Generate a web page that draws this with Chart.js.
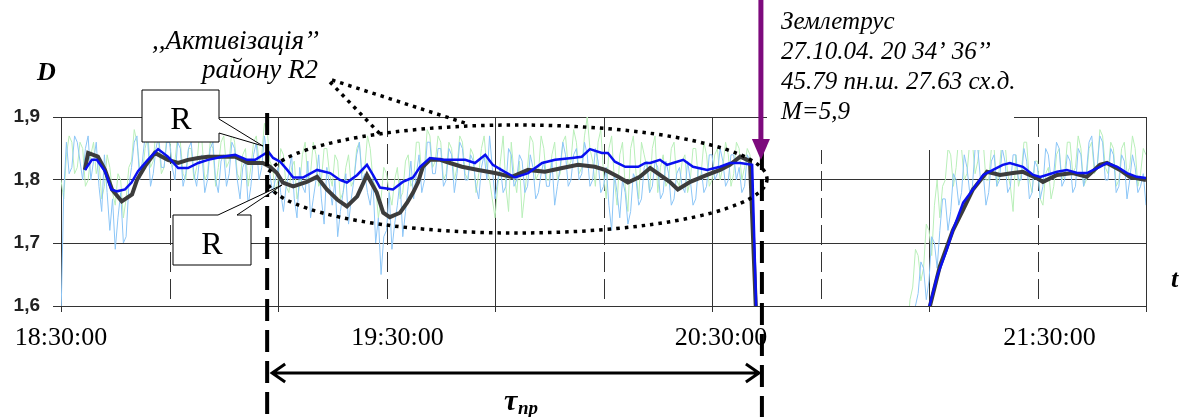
<!DOCTYPE html>
<html>
<head>
<meta charset="utf-8">
<script src="https://cdn.jsdelivr.net/npm/chart.js@4.4.0/dist/chart.umd.min.js"></script>
<style>
  html, body { margin: 0; padding: 0; background: #fff; }
</style>
</head>
<body>
<canvas id="chart" width="1179" height="417"></canvas>
<script>
// time axis is in minutes after 18:30:00
const labelMinutes = [0, 60, 120, 180];
const timeLabels = ['18:30:00', '19:30:00', '20:30:00', '21:30:00'];
const labelNudge = [0, 11, 9, 12];

// raw traces are sampled every half minute
const rawStep = 0.5;

// raw D, light blue trace
const rawBlueStart = 0;
const rawBlueEarly = [
  1.58, 1.78, 1.86, 1.81, 1.82, 1.87, 1.86, 1.83, 1.80, 1.85, 1.87, 1.80, 1.83, 1.86, 1.79, 1.75, 1.84, 1.78, 1.72, 1.77,
  1.69, 1.74, 1.78, 1.70, 1.71, 1.79, 1.82, 1.86, 1.87, 1.80, 1.83, 1.87, 1.86, 1.79, 1.81, 1.85, 1.87, 1.82, 1.82, 1.86,
  1.86, 1.82, 1.80, 1.86, 1.85, 1.79, 1.81, 1.85, 1.86, 1.81, 1.79, 1.83, 1.84, 1.78, 1.80, 1.85, 1.86, 1.80, 1.78, 1.83,
  1.84, 1.79, 1.81, 1.86, 1.85, 1.80, 1.77, 1.82, 1.83, 1.76, 1.79, 1.84, 1.86, 1.80, 1.82, 1.87, 1.84, 1.81, 1.78, 1.80,
  1.82, 1.78, 1.75, 1.79, 1.81, 1.84, 1.77, 1.74, 1.82, 1.79, 1.78, 1.83, 1.74, 1.77, 1.80, 1.84, 1.77, 1.73, 1.82, 1.79,
  1.76, 1.80, 1.71, 1.75, 1.78, 1.81, 1.73, 1.77, 1.80, 1.84, 1.86, 1.80, 1.81, 1.78, 1.76, 1.80, 1.70, 1.74, 1.65, 1.71,
  1.72, 1.78, 1.69, 1.73, 1.76, 1.80, 1.71, 1.75, 1.79, 1.83, 1.77, 1.81, 1.84, 1.78, 1.80, 1.86, 1.86, 1.81, 1.81, 1.85,
  1.85, 1.79, 1.80, 1.85, 1.84, 1.78, 1.81, 1.86, 1.85, 1.80, 1.80, 1.84, 1.83, 1.79, 1.77, 1.82, 1.84, 1.80, 1.87, 1.82,
  1.77, 1.80, 1.82, 1.78, 1.79, 1.85, 1.84, 1.79, 1.80, 1.84, 1.83, 1.78, 1.79, 1.84, 1.82, 1.77, 1.78, 1.81, 1.83, 1.79,
  1.79, 1.83, 1.76, 1.79, 1.82, 1.86, 1.84, 1.79, 1.80, 1.84, 1.85, 1.80, 1.81, 1.86, 1.84, 1.79, 1.80, 1.85, 1.83, 1.78,
  1.79, 1.82, 1.76, 1.72, 1.81, 1.78, 1.74, 1.80, 1.78, 1.73, 1.75, 1.81, 1.80, 1.76, 1.77, 1.82, 1.83, 1.78, 1.79, 1.83,
  1.82, 1.77, 1.78, 1.83, 1.81, 1.76, 1.77, 1.81, 1.82, 1.79, 1.78, 1.83, 1.80, 1.76, 1.77, 1.82, 1.82, 1.78, 1.79, 1.84,
  1.84, 1.80, 1.81, 1.85, 1.83, 1.79, 1.80, 1.84, 1.84, 1.80, 1.82, 1.78, 1.79, 1.84, 1.83, 1.80, 1.50
];
const rawBlueLateStart = 157;
const rawBlueLate = [
  1.55, 1.60, 1.62, 1.67, 1.66, 1.61, 1.64, 1.71, 1.70, 1.66, 1.72, 1.77, 1.77, 1.72, 1.75, 1.81, 1.80, 1.76, 1.78, 1.84,
  1.82, 1.78, 1.79, 1.85, 1.85, 1.80, 1.81, 1.76, 1.78, 1.83, 1.84, 1.79, 1.80, 1.85, 1.83, 1.78, 1.79, 1.84, 1.84, 1.80,
  1.80, 1.85, 1.83, 1.77, 1.78, 1.83, 1.82, 1.77, 1.79, 1.85, 1.84, 1.80, 1.81, 1.86, 1.85, 1.79, 1.80, 1.84, 1.83, 1.78,
  1.79, 1.85, 1.84, 1.79, 1.81, 1.86, 1.87, 1.82, 1.82, 1.87, 1.86, 1.80, 1.80, 1.85, 1.84, 1.78, 1.79, 1.84, 1.83, 1.77,
  1.80, 1.84, 1.82, 1.78, 1.79, 1.81, 1.76
];

// raw D, light green trace
const rawGreenStart = 0;
const rawGreenEarly = [
  1.80, 1.77, 1.84, 1.87, 1.86, 1.81, 1.82, 1.86, 1.85, 1.79, 1.80, 1.84, 1.86, 1.81, 1.83, 1.77, 1.79, 1.84, 1.82, 1.78,
  1.76, 1.81, 1.80, 1.74, 1.77, 1.82, 1.83, 1.88, 1.86, 1.82, 1.81, 1.85, 1.87, 1.82, 1.83, 1.88, 1.86, 1.81, 1.82, 1.87,
  1.87, 1.82, 1.83, 1.87, 1.86, 1.81, 1.80, 1.85, 1.85, 1.80, 1.82, 1.87, 1.86, 1.80, 1.81, 1.86, 1.85, 1.79, 1.82, 1.86,
  1.87, 1.82, 1.83, 1.88, 1.86, 1.81, 1.80, 1.84, 1.85, 1.79, 1.82, 1.86, 1.87, 1.83, 1.84, 1.89, 1.88, 1.83, 1.82, 1.78,
  1.80, 1.85, 1.84, 1.79, 1.78, 1.82, 1.83, 1.77, 1.79, 1.84, 1.86, 1.80, 1.81, 1.86, 1.84, 1.79, 1.80, 1.85, 1.85, 1.81,
  1.79, 1.84, 1.83, 1.77, 1.78, 1.82, 1.84, 1.79, 1.80, 1.85, 1.86, 1.81, 1.82, 1.87, 1.85, 1.80, 1.79, 1.74, 1.77, 1.82,
  1.81, 1.78, 1.76, 1.80, 1.82, 1.77, 1.78, 1.83, 1.84, 1.79, 1.80, 1.86, 1.86, 1.81, 1.82, 1.88, 1.87, 1.82, 1.83, 1.87,
  1.86, 1.80, 1.81, 1.86, 1.85, 1.80, 1.82, 1.87, 1.86, 1.81, 1.80, 1.85, 1.84, 1.78, 1.81, 1.85, 1.87, 1.82, 1.80, 1.77,
  1.74, 1.79, 1.83, 1.87, 1.79, 1.75, 1.86, 1.81, 1.78, 1.83, 1.74, 1.78, 1.82, 1.87, 1.86, 1.80, 1.81, 1.87, 1.85, 1.80,
  1.80, 1.84, 1.86, 1.80, 1.81, 1.86, 1.87, 1.82, 1.83, 1.88, 1.86, 1.81, 1.82, 1.87, 1.90, 1.85, 1.83, 1.79, 1.86, 1.88,
  1.81, 1.77, 1.85, 1.87, 1.80, 1.76, 1.84, 1.86, 1.79, 1.75, 1.85, 1.87, 1.81, 1.77, 1.86, 1.84, 1.82, 1.78, 1.85, 1.87,
  1.78, 1.82, 1.84, 1.79, 1.80, 1.85, 1.86, 1.80, 1.79, 1.83, 1.84, 1.78, 1.80, 1.85, 1.85, 1.80, 1.81, 1.86, 1.84, 1.79,
  1.80, 1.84, 1.85, 1.80, 1.82, 1.86, 1.84, 1.79, 1.81, 1.86, 1.85, 1.80, 1.82, 1.85, 1.84, 1.79, 1.50
];
const rawGreenLateStart = 156;
const rawGreenLate = [
  1.56, 1.61, 1.63, 1.69, 1.68, 1.64, 1.66, 1.73, 1.72, 1.68, 1.76, 1.80, 1.74, 1.79, 1.80, 1.85, 1.84, 1.79, 1.82, 1.87,
  1.85, 1.80, 1.81, 1.86, 1.86, 1.81, 1.83, 1.87, 1.86, 1.80, 1.80, 1.85, 1.85, 1.79, 1.82, 1.87, 1.86, 1.81, 1.79, 1.75,
  1.84, 1.79, 1.81, 1.86, 1.86, 1.80, 1.78, 1.83, 1.83, 1.77, 1.76, 1.81, 1.82, 1.77, 1.79, 1.84, 1.85, 1.80, 1.81, 1.86,
  1.86, 1.81, 1.82, 1.87, 1.85, 1.79, 1.80, 1.85, 1.86, 1.81, 1.82, 1.88, 1.87, 1.82, 1.81, 1.86, 1.85, 1.79, 1.80, 1.85,
  1.86, 1.81, 1.82, 1.87, 1.85, 1.79, 1.81, 1.85, 1.84
];

// smoothed D, dark grey
const greyMinutes = [4.4, 5, 6.8, 8.1, 9.4, 11.2, 13.1, 14, 15.5, 17.3,
  19.7, 21.6, 23.4, 25.3, 27.1, 29.7, 32.1, 34.5, 37.2, 38.5,
  39.8, 40.9, 42.8, 45.3, 47.2, 49, 50.9, 52.7, 54.6, 56.4,
  58.2, 59.4, 60.6, 62.5, 63.8, 64.9, 65.8, 66.7, 68, 69.9,
  71.7, 73.9, 76.9, 80, 83.1, 86.1, 89.2, 92.4, 95.3, 98.4,
  100.3, 102.7, 104.5, 106.7, 108.6, 110.4, 112.2, 113.7, 116, 119.1,
  121.5, 123.3, 125.2, 127, 128.3, 144,
  159.6, 162, 164.4, 166.3, 168.1, 170.7, 173.1, 175.5, 177.3, 179.9,
  181, 183.6, 186.5, 189.1, 191.5, 192.8, 195.2, 197, 200];
const greyValues = [1.816, 1.843, 1.837, 1.816, 1.785, 1.766, 1.777, 1.80, 1.822, 1.843,
  1.832, 1.827, 1.832, 1.835, 1.837, 1.837, 1.837, 1.827, 1.827, 1.821,
  1.811, 1.796, 1.79, 1.797, 1.805, 1.785, 1.769, 1.758, 1.774, 1.808,
  1.78, 1.748, 1.741, 1.748, 1.764, 1.78, 1.796, 1.821, 1.832, 1.832,
  1.827, 1.821, 1.816, 1.811, 1.805, 1.816, 1.813, 1.819, 1.824, 1.821,
  1.816, 1.805, 1.796, 1.805, 1.819, 1.808, 1.797, 1.785, 1.797, 1.808,
  1.816, 1.824, 1.837, 1.83, 1.55, null,
  1.58, 1.663, 1.72, 1.753, 1.785, 1.813, 1.808, 1.811, 1.813, 1.803,
  1.797, 1.808, 1.811, 1.805, 1.824, 1.827, 1.816, 1.805, 1.80];

// smoothed D, blue
const blueMinutes = [4.4, 5.7, 6.6, 8.1, 9.3, 10.3, 11.8, 13, 14.2, 16,
  17.9, 19.7, 21.6, 23.4, 25.3, 27.1, 29.7, 32.1, 34.3, 35.8,
  36.7, 38.2, 39.1, 40.4, 41.7, 42.8, 44.6, 47.2, 49.6, 51.4,
  52.7, 54.6, 56.4, 57.5, 58.8, 61.2, 63, 64.9, 66.2, 68,
  70.4, 72.6, 74.5, 76.3, 78.2, 79.6, 81.8, 83.7, 86.1, 88.7,
  91.1, 94.2, 96, 97.5, 99.7, 100.8, 102.1, 104, 106.4, 107.7,
  108.6, 110.4, 111.7, 112.8, 114.7, 116.5, 119.1, 121.5, 123.3, 125.2,
  127.4, 128.3, 144,
  159.5, 161.5, 163.3, 164.4, 166.3, 168.1, 170, 171.8, 173.6, 174.9,
  177.3, 179.2, 180.5, 181.7, 183.6, 185.4, 187.3, 189.1, 191.5, 192.8,
  194.7, 196.5, 198.3, 200];
const blueValues = [1.816, 1.832, 1.832, 1.814, 1.785, 1.782, 1.785, 1.796, 1.814, 1.832,
  1.849, 1.837, 1.819, 1.819, 1.827, 1.832, 1.837, 1.84, 1.832, 1.832,
  1.837, 1.845, 1.835, 1.829, 1.816, 1.804, 1.804, 1.816, 1.811, 1.80,
  1.796, 1.808, 1.824, 1.808, 1.788, 1.785, 1.797, 1.804, 1.821, 1.835,
  1.832, 1.832, 1.832, 1.827, 1.840, 1.824, 1.813, 1.804, 1.811, 1.827,
  1.832, 1.835, 1.837, 1.849, 1.843, 1.843, 1.829, 1.821, 1.821, 1.827,
  1.827, 1.832, 1.824, 1.827, 1.832, 1.821, 1.816, 1.821, 1.827, 1.827,
  1.824, 1.55, null,
  1.58, 1.647, 1.69, 1.72, 1.764, 1.785, 1.808, 1.816, 1.824, 1.827,
  1.821, 1.808, 1.805, 1.808, 1.813, 1.816, 1.811, 1.811, 1.821, 1.827,
  1.821, 1.811, 1.805, 1.803];

// marked moments: start of "activation" and the earthquake
const activationMinute = 38;
const quakeMinute = 129.2;

function rawPoints(start, early, lateStart, late) {
  var pts = early.map((v, i) => ({x: start + i * rawStep, y: v}));
  pts.push({x: lateStart - 1, y: null});
  late.forEach((v, i) => pts.push({x: lateStart + i * rawStep, y: v}));
  return pts;
}

function pairPoints(times, values) {
  return times.map((t, i) => ({x: t, y: values[i]}));
}

function isMinorLine(v) {
  return Math.round(v / 20) % 2 === 1;
}

// vertical grid: solid every 40 min, dashed in between
const vGrid = {
  id: 'vGrid',
  beforeDatasetsDraw(chart) {
    const {ctx, chartArea, scales: {x}} = chart;
    ctx.save();
    ctx.strokeStyle = '#333';
    ctx.lineWidth = 1;
    x.ticks.forEach(t => {
      const px = Math.round(x.getPixelForValue(t.value)) + 0.5;
      ctx.setLineDash(isMinorLine(t.value) ? [20, 7] : []);
      ctx.beginPath();
      ctx.moveTo(px, chartArea.top);
      ctx.lineTo(px, chartArea.bottom);
      ctx.stroke();
    });
    ctx.restore();
  }
};

function callout(ctx, pts) {
  ctx.beginPath();
  ctx.moveTo(pts[0][0], pts[0][1]);
  for (let i = 1; i < pts.length; i++) ctx.lineTo(pts[i][0], pts[i][1]);
  ctx.closePath();
  ctx.fillStyle = '#fff';
  ctx.fill();
  ctx.strokeStyle = '#000';
  ctx.lineWidth = 1;
  ctx.setLineDash([]);
  ctx.stroke();
}

const notes = {
  id: 'notes',
  afterDraw(chart) {
    const {ctx, scales: {x}} = chart;
    const xa = x.getPixelForValue(activationMinute);
    const xq = x.getPixelForValue(quakeMinute);
    ctx.save();

    // x labels
    ctx.fillStyle = '#000';
    ctx.font = '26px "Liberation Serif"';
    ctx.textAlign = 'center';
    ctx.textBaseline = 'alphabetic';
    labelMinutes.forEach((m, i) => {
      ctx.fillText(timeLabels[i], x.getPixelForValue(m) + labelNudge[i], 345);
    });

    // white panel behind the quake text
    ctx.fillStyle = '#fff';
    ctx.fillRect(767, 0, 247, 150);

    // dotted ellipse and pointers
    ctx.strokeStyle = '#000';
    ctx.lineWidth = 3.5;
    ctx.setLineDash([3.5, 5]);
    ctx.beginPath();
    ctx.ellipse(517, 179, 250, 54, 0, 0, Math.PI * 2);
    ctx.stroke();
    ctx.beginPath();
    ctx.moveTo(330, 82);
    ctx.lineTo(383, 137);
    ctx.moveTo(332, 80);
    ctx.lineTo(468, 124);
    ctx.stroke();

    // thick dashed verticals
    ctx.lineWidth = 4;
    ctx.setLineDash([22, 9]);
    ctx.beginPath();
    ctx.moveTo(xa, 113);
    ctx.lineTo(xa, 417);
    ctx.moveTo(xq, 148);
    ctx.lineTo(xq, 417);
    ctx.stroke();

    // double arrow for the lead time
    ctx.setLineDash([]);
    ctx.lineWidth = 3;
    ctx.beginPath();
    ctx.moveTo(xa + 5, 373);
    ctx.lineTo(xq - 3, 373);
    ctx.moveTo(xa + 18, 364);
    ctx.lineTo(xa + 5, 373);
    ctx.lineTo(xa + 18, 382);
    ctx.moveTo(xq - 16, 364);
    ctx.lineTo(xq - 3, 373);
    ctx.lineTo(xq - 16, 382);
    ctx.stroke();

    // purple quake arrow
    ctx.strokeStyle = '#7d0a7d';
    ctx.fillStyle = '#7d0a7d';
    ctx.lineWidth = 5;
    ctx.beginPath();
    ctx.moveTo(xq - 1, 0);
    ctx.lineTo(xq - 1, 142);
    ctx.stroke();
    ctx.beginPath();
    ctx.moveTo(xq - 10, 139);
    ctx.lineTo(xq + 8, 139);
    ctx.lineTo(xq - 1, 160);
    ctx.closePath();
    ctx.fill();

    // R callouts
    callout(ctx, [[142, 90], [219, 90], [219, 119], [263, 146], [219, 133], [219, 142], [142, 142]]);
    callout(ctx, [[173, 215], [218, 215], [282, 185], [237, 215], [251, 215], [251, 265], [173, 265]]);
    ctx.fillStyle = '#000';
    ctx.font = '32px "Liberation Serif"';
    ctx.textAlign = 'center';
    ctx.fillText('R', 181, 129);
    ctx.fillText('R', 212, 254);

    // texts
    ctx.textAlign = 'left';
    ctx.font = 'bold italic 26px "Liberation Serif"';
    ctx.fillText('D', 37, 80);
    ctx.fillText('t', 1171, 287);
    ctx.font = 'bold italic 30px "Liberation Serif"';
    ctx.fillText('τ', 504, 410);
    ctx.font = 'bold italic 19px "Liberation Serif"';
    ctx.fillText('пр', 518, 414);

    ctx.font = 'italic 27px "Liberation Serif"';
    ctx.fillText(',,Активізація’’', 152, 49);
    ctx.textAlign = 'right';
    ctx.fillText('району R2', 318, 78);
    ctx.textAlign = 'left';
    ctx.font = 'italic 25px "Liberation Serif"';
    ctx.fillText('Землетрус', 781, 29);
    ctx.fillText('27.10.04. 20 34’ 36’’', 781, 59);
    ctx.fillText('45.79 пн.ш. 27.63 сх.д.', 781, 89);
    ctx.fillText('M=5,9', 781, 119);
    ctx.restore();
  }
};

new Chart(document.getElementById('chart'), {
  type: 'line',
  data: {
    datasets: [
      { data: pairPoints(blueMinutes, blueValues), borderColor: '#0a10f0', borderWidth: 2.5 },
      { data: pairPoints(greyMinutes, greyValues), borderColor: '#3c3c3c', borderWidth: 4 },
      { data: rawPoints(rawBlueStart, rawBlueEarly, rawBlueLateStart, rawBlueLate), borderColor: '#8cc6f7', borderWidth: 1 },
      { data: rawPoints(rawGreenStart, rawGreenEarly, rawGreenLateStart, rawGreenLate), borderColor: '#b9efb9', borderWidth: 1 }
    ]
  },
  options: {
    responsive: false,
    animation: false,
    devicePixelRatio: 1,
    spanGaps: false,
    elements: { point: { radius: 0 }, line: { tension: 0 } },
    layout: { padding: { top: 117, right: 33, left: 0, bottom: 0 } },
    plugins: { legend: { display: false }, tooltip: { enabled: false } },
    scales: {
      x: {
        type: 'linear',
        min: 0,
        max: 200,
        afterFit: s => { s.height = 111; },
        ticks: { stepSize: 20, autoSkip: false, callback: () => '' },
        grid: {
          drawOnChartArea: false,
          tickLength: 6,
          tickColor: c => (c.tick && isMinorLine(c.tick.value)) ? 'rgba(0,0,0,0)' : '#333'
        },
        border: { color: '#333' }
      },
      y: {
        min: 1.6,
        max: 1.9,
        afterFit: s => { s.width = 61; },
        ticks: {
          stepSize: 0.1,
          padding: 13,
          color: '#222',
          font: { family: '"Liberation Sans"', size: 19, weight: 'bold' },
          callback: v => v.toFixed(1).replace('.', ',')
        },
        grid: { color: '#333', tickLength: 8 },
        border: { color: '#333' }
      }
    }
  },
  plugins: [vGrid, notes]
});
</script>
</body>
</html>
